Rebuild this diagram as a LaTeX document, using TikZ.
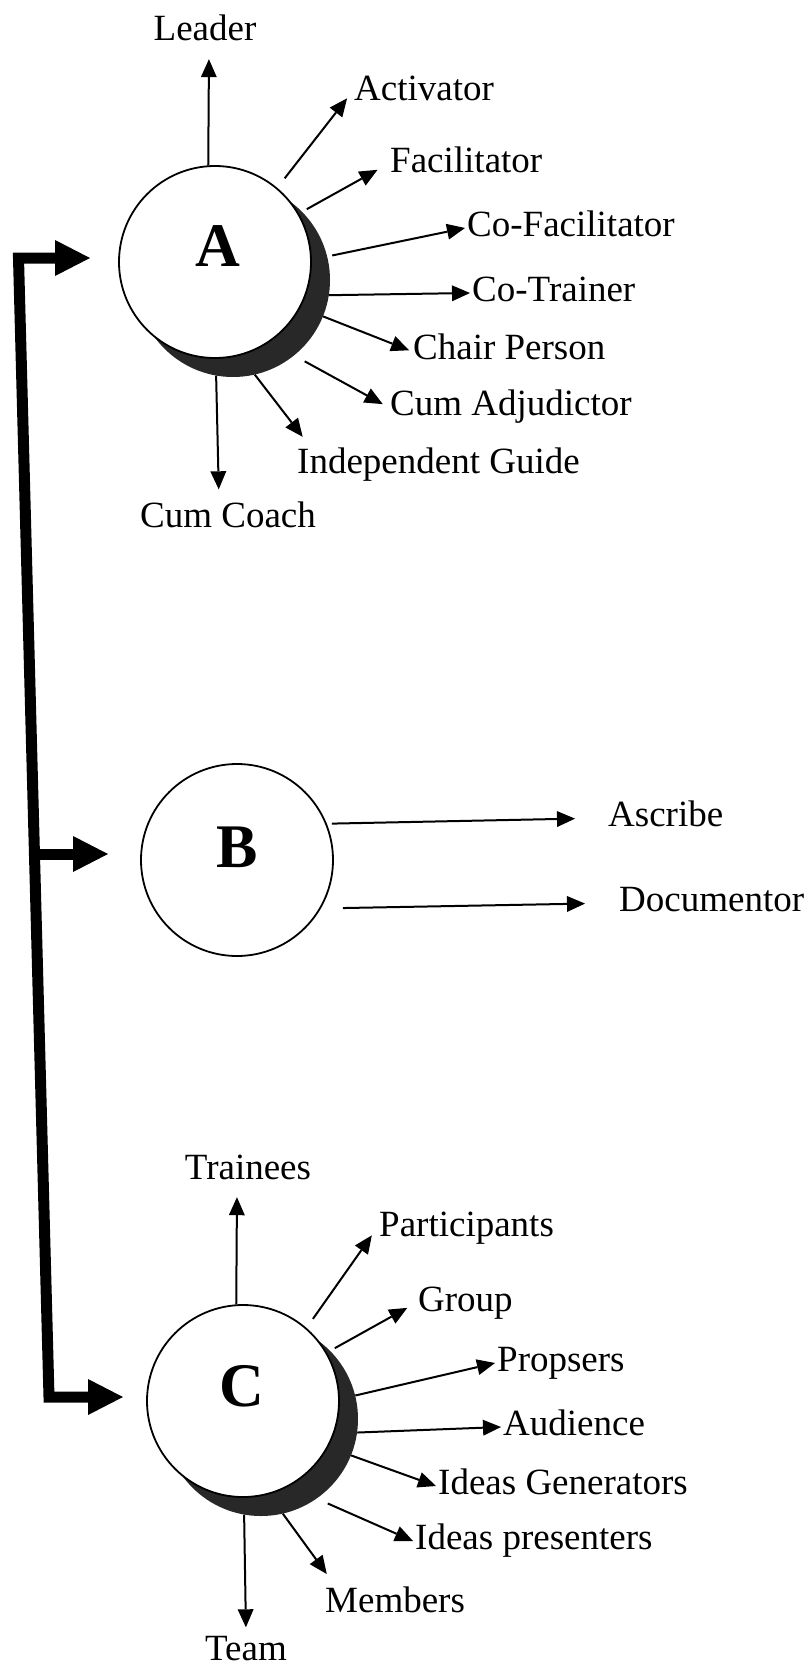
\documentclass[tikz,border=0pt]{standalone}
\usepackage{fontspec}
\setmainfont{Liberation Serif}
\usepackage{tikz}
\usetikzlibrary{arrows.meta,positioning}
\definecolor{rimgray}{RGB}{40,40,40}
\tikzstyle{role} = [circle, draw, line width=1.8pt, fill=white, minimum size=192pt, inner sep=0pt]
\tikzstyle{rimshade} = [circle, fill=rimgray, minimum size=194pt, inner sep=0pt]
\tikzstyle{letter} = [inner sep=0pt, font=\fontsize{62}{62}\selectfont\bfseries]
\tikzstyle{lbl} = [inner sep=2pt, text height=25pt, text depth=8pt, font=\fontsize{37}{40}\selectfont]
\tikzstyle{lblw} = [lbl, anchor=west]
\tikzstyle{spoke} = [line width=2pt, >={Triangle[length=18pt,width=16pt,line width=0pt]}, ->]
\tikzstyle{feed} = [line width=11pt, line join=miter, >={Triangle[length=35pt,width=36pt,line width=0pt]}]

\begin{document}
\begin{tikzpicture}[x=1pt,y=-1pt]
\useasboundingbox (0,0) rectangle (805,1672);

% Circle A with its roles
\node (Ash) [rimshade] at (233,280) {};
\node (A) [role] at (215,262) {};
\node (Atxt) [letter] at (218,246) {A};

\node (leader) [lbl] at (205,32) {Leader};
\node (activator) [lblw] at (352,92) {Activator};
\node (facil) [lblw] at (388,164) {Facilitator};
\node (cofacil) [lblw] at (465,228) {Co-Facilitator};
\node (cotrain) [lblw] at (470,293) {Co-Trainer};
\node (chair) [lblw] at (411,351) {Chair Person};
\node (adjud) [lblw] at (388,407) {Cum Adjudictor};
\node (guide) [lblw] at (295,465) {Independent Guide};
\node (coach) [lbl] at (228,519) {Cum Coach};

\draw[spoke, shorten >=8.5pt] (A.94) -- ([xshift=4pt]leader.south);
\draw[spoke, shorten <=12pt, shorten >=8pt] (A.50) -- (activator.west);
\draw[spoke, shorten <=9pt, shorten >=12pt] (A.30) -- (facil.west);
\draw[spoke, shorten <=5pt] (Ash.14) -- (cofacil.west);
\draw[spoke] (Ash.-9) -- (cotrain.west);
\draw[spoke, shorten >=2pt] (Ash.-22) -- (chair.west);
\draw[spoke, shorten <=12pt, shorten >=6pt] (Ash.-51) -- (adjud.west);
\draw[spoke, shorten >=12pt] (Ash.-77) -- ([xshift=15pt]guide.north west);
\draw[spoke, shorten >=11pt] (Ash.-100) -- ([xshift=-9pt]coach.north);

% Circle B with its roles
\node (B) [role] at (237,860) {};
\node (Btxt) [letter] at (237,847) {B};

\node (ascribe) [lblw] at (606,818) {Ascribe};
\node (documentor) [lblw] at (617,903) {Documentor};

\draw[spoke, shorten <=5pt, shorten >=31pt] (B.22) -- (ascribe.west);
\draw[spoke, shorten <=22pt, shorten >=32pt] (B.-30) -- (documentor.west);

% Circle C with its roles
\node (Csh) [rimshade] at (261,1419) {};
\node (C) [role] at (243,1401) {};
\node (Ctxt) [letter] at (242,1386) {C};

\node (trainees) [lbl] at (248,1171) {Trainees};
\node (particip) [lblw] at (377,1228) {Participants};
\node (group) [lblw] at (416,1303) {Group};
\node (propsers) [lblw] at (495,1363) {Propsers};
\node (audience) [lblw] at (501,1427) {Audience};
\node (ideasgen) [lblw] at (436,1486) {Ideas Generators};
\node (ideaspres) [lblw] at (413,1541) {Ideas presenters};
\node (members) [lblw] at (323,1604) {Members};
\node (team) [lbl] at (246,1652) {Team};

\draw[spoke, shorten >=7.5pt] (C.94) -- ([xshift=-11pt]trainees.south);
\draw[spoke, shorten <=11pt, shorten >=9pt] (C.49) -- (particip.west);
\draw[spoke, shorten <=9pt, shorten >=10pt] (C.30) -- (group.west);
\draw[spoke] (Csh.14) -- (propsers.west);
\draw[spoke] (Csh.-8) -- (audience.west);
\draw[spoke] (Csh.-22) -- (ideasgen.west);
\draw[spoke, shorten <=12pt] (Csh.-55) -- (ideaspres.west);
\draw[spoke, shorten >=14pt] (Csh.-77) -- ([xshift=12pt]members.north west);
\draw[spoke, shorten >=6pt] (Csh.-100) -- (team.north);

% Feed line to the three circles
\coordinate (kA) at (18.5,258);
\coordinate (kB) at (34.5,854);
\coordinate (kC) at (49,1397);
\coordinate (tA) at (90,258);
\coordinate (tB) at (108,854);
\coordinate (tC) at (123,1397);
\draw[feed, <->] (tA) -- (kA) -- (kC) -- (tC);
\draw[feed, ->] (kB) -- (tB);

\end{tikzpicture}
\end{document}
